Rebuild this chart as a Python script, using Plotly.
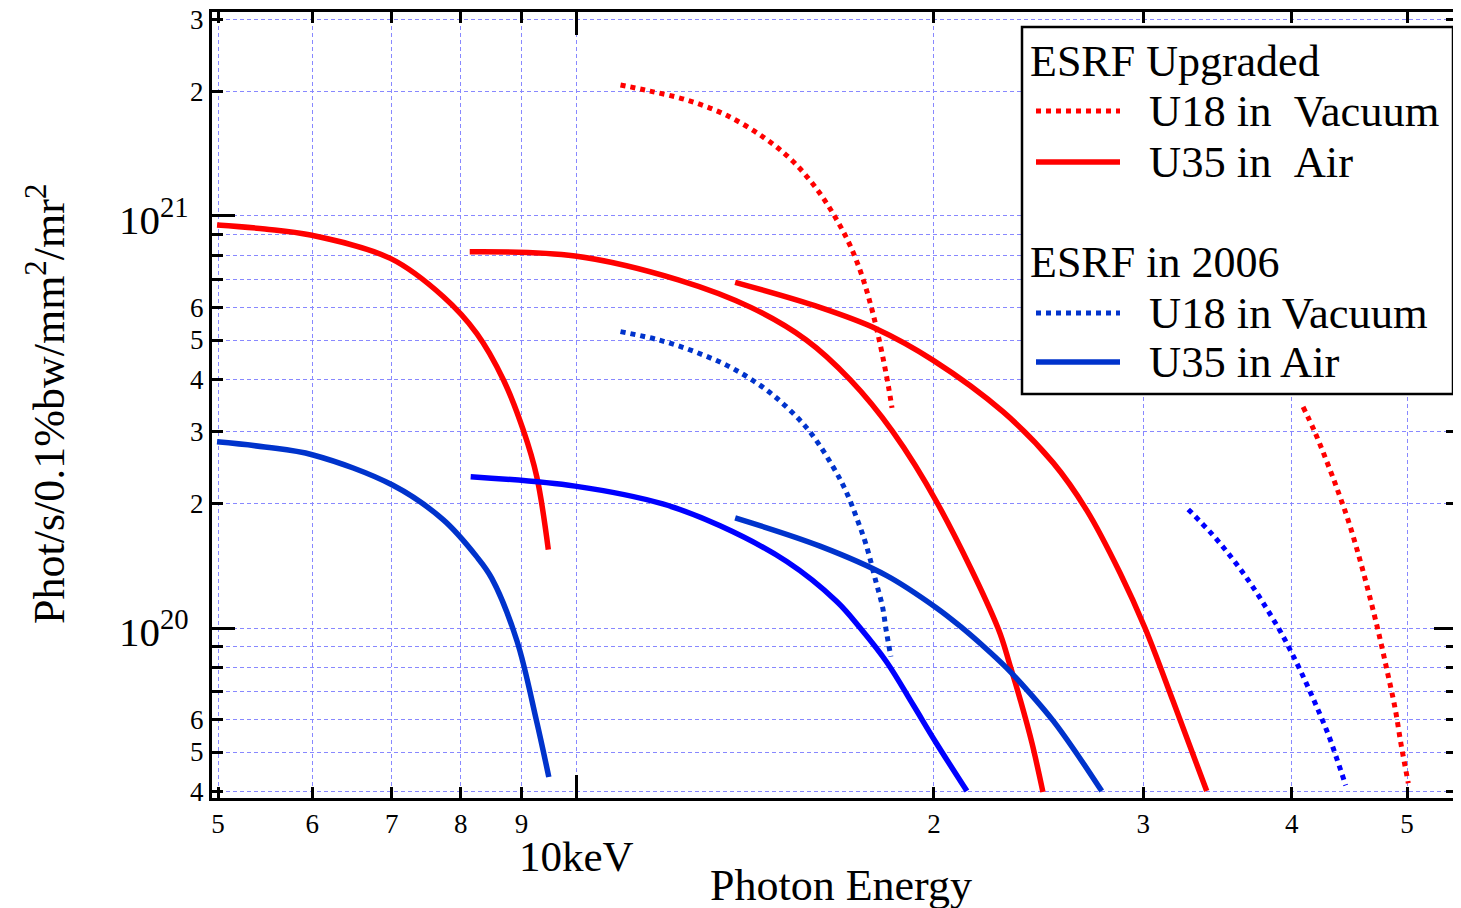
import math
import plotly.graph_objects as go

# ---------------- data ----------------
# ESRF Upgraded, U35 in Air (solid red) - three harmonics
up_u35_h1_x = [4.99, 5.475, 5.98, 6.98, 7.735, 8.25, 8.69, 9.03, 9.268, 9.478]
up_u35_h1_y = [9.51e20, 9.30e20, 8.99e20, 7.89e20, 6.37e20, 5.19e20, 4.0e20, 3.02e20, 2.33e20, 1.55e20]
up_u35_h2_x = [8.14, 9.98, 12.19, 14.03, 15.62, 17.01, 18.46, 20.15, 22.64, 23.17, 23.67, 24.18, 24.70]
up_u35_h2_y = [8.19e20, 8.0e20, 7.0e20, 6.0e20, 5.0e20, 4.0e20, 3.0e20, 2.0e20, 1.0e20, 8.13e19, 6.61e19, 5.26e19, 4.0e19]
up_u35_h3_x = [13.61, 16.04, 17.90, 19.96, 22.86, 25.19, 26.89, 28.68, 30.1, 31.78, 33.92]
up_u35_h3_y = [6.9e20, 6.0e20, 5.32e20, 4.47e20, 3.35e20, 2.52e20, 1.93e20, 1.36e20, 1.0e20, 6.65e19, 4.02e19]

# ESRF Upgraded, U18 in Vacuum (dotted red)
up_u18_a_x = [10.90, 11.54, 12.41, 13.36, 14.39, 15.21, 15.95, 16.54, 17.01, 17.39, 17.68, 17.91, 18.14, 18.33, 18.44]
up_u18_a_y = [2.08e21, 2.01e21, 1.91e21, 1.76e21, 1.55e21, 1.36e21, 1.16e21, 9.87e20, 8.46e20, 7.19e20, 6.14e20, 5.29e20, 4.46e20, 3.80e20, 3.42e20]
up_u18_b_x = [40.88, 41.82, 43.07, 43.86, 44.60, 45.59, 46.48, 47.33, 48.10, 48.85, 49.45, 50.12]
up_u18_b_y = [3.44e20, 2.99e20, 2.42e20, 2.10e20, 1.83e20, 1.48e20, 1.20e20, 9.71e19, 7.88e19, 6.39e19, 5.17e19, 4.20e19]

# ESRF in 2006, U35 in Air (solid blue)
e06_u35_h1_x = [4.99, 5.475, 6.01, 7.015, 7.735, 8.25, 8.495, 8.92, 9.264, 9.487]
e06_u35_h1_y = [2.83e20, 2.75e20, 2.63e20, 2.22e20, 1.83e20, 1.49e20, 1.32e20, 9.30e19, 5.95e19, 4.35e19]
e06_u35_h2_x = [8.155, 9.98, 11.83, 13.22, 15.04, 16.57, 17.34, 18.25, 19.21, 20.09, 21.32]
e06_u35_h2_y = [2.33e20, 2.21e20, 2.0e20, 1.77e20, 1.45e20, 1.16e20, 1.0e20, 8.27e19, 6.51e19, 5.26e19, 4.02e19]
e06_u35_h3_x = [13.61, 16.04, 18.25, 20.09, 21.04, 22.0, 23.02, 24.08, 25.2, 26.28, 27.68]
e06_u35_h3_y = [1.85e20, 1.58e20, 1.34e20, 1.12e20, 1.01e20, 9.04e19, 8.0e19, 6.95e19, 5.95e19, 5.03e19, 4.02e19]

# ESRF in 2006, U18 in Vacuum (dotted blue)
e06_u18_a_x = [10.90, 11.74, 12.62, 13.58, 14.62, 15.66, 16.48, 16.89, 17.22, 17.53, 17.87, 18.10, 18.24, 18.40]
e06_u18_a_y = [5.24e20, 5.00e20, 4.67e20, 4.25e20, 3.69e20, 3.04e20, 2.44e20, 2.13e20, 1.85e20, 1.60e20, 1.30e20, 1.13e20, 9.81e19, 8.52e19]
e06_u18_b_x = [32.73, 34.27, 35.67, 36.94, 38.13, 39.26, 40.25, 41.20, 42.09, 42.94, 43.69, 44.40]
e06_u18_b_y = [1.94e20, 1.69e20, 1.47e20, 1.28e20, 1.11e20, 9.63e19, 8.38e19, 7.27e19, 6.32e19, 5.50e19, 4.77e19, 4.15e19]

# axis ticks
x_tickvals = [5, 6, 7, 8, 9, 20, 30, 40, 50]
x_ticktext = ["5", "6", "7", "8", "9", "2", "3", "4", "5"]
x_major = [10]
y_tickvals = [4e19, 5e19, 6e19, 7e19, 8e19, 9e19,
              2e20, 3e20, 4e20, 5e20, 6e20, 7e20, 8e20, 9e20,
              2e21, 3e21]
y_ticktext = ["4", "5", "6", " ", " ", " ",
              "2", "3", "4", "5", "6", " ", " ", " ",
              "2", "3"]
y_major = [1e20, 1e21]
y_major_text = ["10<sup>20</sup>", "10<sup>21</sup>"]

legend_groups = ["ESRF Upgraded", "ESRF in 2006"]
legend_labels = ["U18 in\u00a0\u00a0Vacuum", "U35 in\u00a0\u00a0Air", "U18 in Vacuum", "U35 in Air"]

# ---------------- styling ----------------
RED = "#ff0000"
BLUE_D = "#0033cc"
BLUE_B = "#0000ff"
FONT = "Liberation Serif, Times New Roman, serif"
OFF = 8                      # page body margin
W, H = 1461 - OFF, 908 - OFF
L, R, T, B = 204, 4, 4, 110
PW, PH = W - L - R, H - T - B


def px(xp):   # page pixel -> paper x
    return (xp - OFF - L) / PW


def py(yp):   # page pixel -> paper y
    return (H - B - (yp - OFF)) / PH


fig = go.Figure()

series = [
    (up_u35_h1_x, up_u35_h1_y, RED, "solid"),
    (up_u35_h2_x, up_u35_h2_y, RED, "solid"),
    (up_u35_h3_x, up_u35_h3_y, RED, "solid"),
    (e06_u35_h1_x, e06_u35_h1_y, BLUE_D, "solid"),
    (e06_u35_h2_x, e06_u35_h2_y, BLUE_B, "solid"),
    (e06_u35_h3_x, e06_u35_h3_y, BLUE_D, "solid"),
    (e06_u18_a_x, e06_u18_a_y, BLUE_D, "5px,5px"),
    (e06_u18_b_x, e06_u18_b_y, BLUE_B, "5px,5px"),
    (up_u18_a_x, up_u18_a_y, RED, "5px,5px"),
    (up_u18_b_x, up_u18_b_y, RED, "5px,5px"),
]
for xs, ys, col, dash in series:
    fig.add_trace(go.Scatter(
        x=xs, y=ys, mode="lines",
        line=dict(color=col, width=5.5 if dash == "solid" else 5, dash=dash, shape="spline", smoothing=1.0),
        showlegend=False, hoverinfo="skip"))

grid = dict(showgrid=True, gridcolor="#8888ff", gridwidth=1, griddash="4px,3px")

fig.update_xaxes(
    type="log", range=[0.69386, 1.74096],
    tickmode="array", tickvals=x_tickvals, ticktext=x_ticktext,
    ticks="inside", ticklen=11, tickwidth=3, tickcolor="black",
    showline=True, linewidth=3, linecolor="black", mirror="ticks",
    tickfont=dict(family=FONT, size=27, color="black"), ticklabeloverflow="allow",
    minor=dict(tickmode="array", tickvals=x_major, ticks="inside", ticklen=23,
               tickwidth=3, tickcolor="black", **grid),
    zeroline=False, **grid)

fig.update_yaxes(
    type="log", range=[19.5874, 21.4951],
    tickmode="array", tickvals=y_tickvals, ticktext=y_ticktext,
    ticks="inside", ticklen=11, tickwidth=3, tickcolor="black",
    showline=True, linewidth=3, linecolor="black", mirror="ticks",
    tickfont=dict(family=FONT, size=27, color="black"), ticklabeloverflow="allow",
    minor=dict(tickmode="array", tickvals=y_major, ticks="inside", ticklen=23,
               tickwidth=3, tickcolor="black", **grid),
    zeroline=False, **grid)

ann = []
# decade labels on the y axis
for v, lab in zip(y_major, y_major_text):
    ann.append(dict(xref="paper", yref="y", x=px(191), y=math.log10(v), text=lab,
                    xanchor="right", yanchor="middle", yshift=-1, showarrow=False,
                    font=dict(family=FONT, size=41, color="black")))
ann.append(dict(xref="x", yref="paper", x=math.log10(x_major[0]), y=py(857), text="10keV",
                xanchor="center", yanchor="middle", showarrow=False,
                font=dict(family=FONT, size=43, color="black")))
ann.append(dict(xref="paper", yref="paper", x=px(841), y=py(886), text="Photon Energy",
                xanchor="center", yanchor="middle", showarrow=False,
                font=dict(family=FONT, size=44, color="black")))
ann.append(dict(xref="paper", yref="paper", x=px(46), y=py(404),
                text="Phot/s/0.1%bw/mm<sup>2</sup>/mr<sup>2</sup>", textangle=-90,
                xanchor="center", yanchor="middle", showarrow=False,
                font=dict(family=FONT, size=44, color="black")))

# legend box (drawn by hand to match the boxed two-group layout)
shapes = [dict(type="rect", xref="paper", yref="paper", x0=px(1022), x1=px(1453), y0=py(394), y1=py(27),
               fillcolor="white", line=dict(color="black", width=2.5), layer="above")]
rows = [
    (legend_groups[0], None, None, 62),
    (legend_labels[0], RED, "5px,5px", 111),
    (legend_labels[1], RED, "solid", 162),
    (legend_groups[1], None, None, 262),
    (legend_labels[2], BLUE_D, "5px,5px", 313),
    (legend_labels[3], BLUE_D, "solid", 362),
]
for text, col, dash, yc in rows:
    if col is None:
        ann.append(dict(xref="paper", yref="paper", x=px(1028), y=py(yc), text=text,
                        xanchor="left", yanchor="middle", showarrow=False,
                        font=dict(family=FONT, size=44, color="black")))
    else:
        shapes.append(dict(type="line", xref="paper", yref="paper", x0=px(1036), x1=px(1120),
                           y0=py(yc), y1=py(yc), layer="above",
                           line=dict(color=col, width=5.5 if dash == "solid" else 5, dash=dash)))
        ann.append(dict(xref="paper", yref="paper", x=px(1147), y=py(yc), text=text,
                        xanchor="left", yanchor="middle", showarrow=False,
                        font=dict(family=FONT, size=44.5, color="black")))

fig.update_layout(
    width=W, height=H, margin=dict(l=L, r=R, t=T, b=B, autoexpand=False),
    paper_bgcolor="white", plot_bgcolor="white",
    font=dict(family=FONT, color="black"),
    showlegend=False, annotations=ann, shapes=shapes)

fig.write_html("out.html")
